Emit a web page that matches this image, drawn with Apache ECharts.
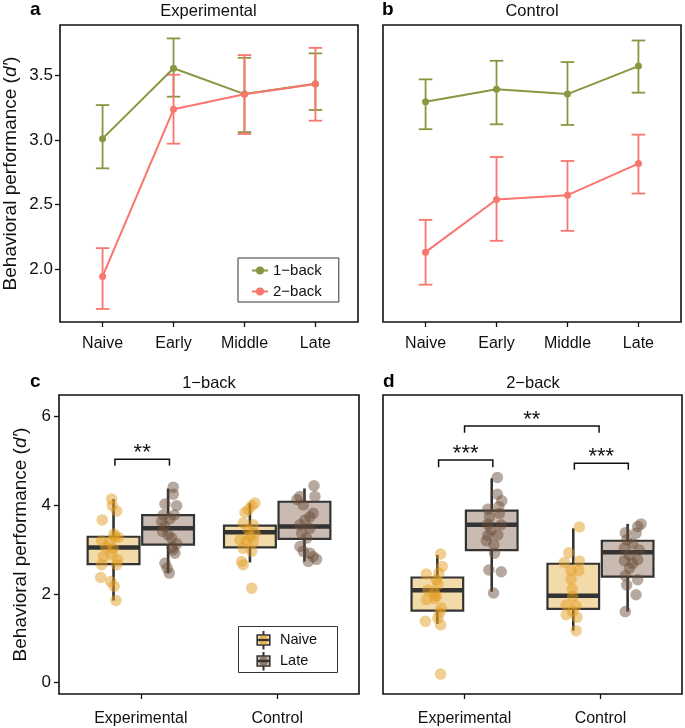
<!DOCTYPE html>
<html><head><meta charset="utf-8">
<script src="https://cdn.jsdelivr.net/npm/echarts@6/dist/echarts.min.js"></script>
<style>html,body{margin:0;padding:0;background:#fff}#c{width:685px;height:728px}</style>
</head><body><div id="c"></div>
<script>
const FONT = "'Liberation Sans', Arial, Helvetica, sans-serif";

// ---------- Panels a/b : mean ± error per phase ----------
const phases = ['Naive', 'Early', 'Middle', 'Late'];
const phaseTicks = [1, 2, 3, 4];
const topYTicks = [2.0, 2.5, 3.0, 3.5];

const expOneMean = [3.01, 3.555, 3.355, 3.435];
const expOneLow  = [2.78, 3.335, 3.06, 3.232];
const expOneHigh = [3.27, 3.786, 3.636, 3.67];
const expTwoMean = [1.943, 3.237, 3.353, 3.433];
const expTwoLow  = [1.691, 2.971, 3.046, 3.149];
const expTwoHigh = [2.162, 3.505, 3.657, 3.713];

const ctlOneMean = [3.296, 3.392, 3.355, 3.572];
const ctlOneLow  = [3.083, 3.121, 3.116, 3.366];
const ctlOneHigh = [3.469, 3.613, 3.603, 3.770];
const ctlTwoMean = [2.131, 2.539, 2.572, 2.817];
const ctlTwoLow  = [1.879, 2.219, 2.296, 2.585];
const ctlTwoHigh = [2.381, 2.868, 2.837, 3.041];

// ---------- Panels c/d : boxplots + jittered subjects ----------
const groups = ['Experimental', 'Control'];
const groupTicks = [1, 2];
const bottomYTicks = [0, 2, 4, 6];
// box stats: [q1, median, q3, whiskerLow, whiskerHigh]
const cExpNaiveBox = [2.67, 3.045, 3.29, 1.85, 4.14];
const cExpLateBox  = [3.11, 3.48, 3.78, 2.47, 4.38];
const cCtlNaiveBox = [3.05, 3.39, 3.54, 2.71, 4.05];
const cCtlLateBox  = [3.24, 3.52, 4.08, 2.73, 4.38];
const dExpNaiveBox = [1.62, 2.08, 2.37, 1.32, 2.88];
const dExpLateBox  = [2.99, 3.56, 3.88, 2.05, 4.61];
const dCtlNaiveBox = [1.66, 1.96, 2.68, 1.17, 3.48];
const dCtlLateBox  = [2.39, 2.94, 3.20, 1.60, 3.58];

// subject points [x (axis units, jittered), d']
const cExpNaive = [[0.786,4.14],[0.791,3.99],[0.823,3.87],[0.717,3.67],[0.811,3.29],[0.835,3.28],[0.713,3.20],[0.774,3.18],[0.803,3.35],[0.798,3.03],[0.745,3.05],[0.786,2.90],[0.725,2.84],[0.830,2.77],[0.713,2.66],[0.823,2.66],[0.706,2.37],[0.779,2.28],[0.805,2.17],[0.818,1.85]];
const cExpLate = [[1.238,4.41],[1.238,4.25],[1.177,4.03],[1.263,3.99],[1.245,3.78],[1.165,3.78],[1.153,3.63],[1.214,3.70],[1.177,3.52],[1.160,3.41],[1.201,3.33],[1.226,3.26],[1.263,3.13],[1.229,3.05],[1.238,2.99],[1.250,2.92],[1.177,2.69],[1.194,2.58],[1.209,2.47]];
const cCtlNaive = [[1.837,4.05],[1.813,3.99],[1.788,3.90],[1.764,3.84],[1.751,3.60],[1.824,3.56],[1.788,3.44],[1.837,3.37],[1.800,3.30],[1.727,3.22],[1.776,3.18],[1.824,3.18],[1.751,3.03],[1.813,2.96],[1.739,2.73],[1.751,2.66],[1.813,2.13]];
const cCtlLate = [[2.270,4.44],[2.167,4.20],[2.277,4.20],[2.145,4.13],[2.191,4.01],[2.264,3.82],[2.240,3.74],[2.204,3.67],[2.167,3.56],[2.240,3.48],[2.179,3.37],[2.216,3.26],[2.167,3.07],[2.191,2.96],[2.240,2.92],[2.264,2.84],[2.289,2.78],[2.228,2.73]];
const dExpNaive = [[0.824,2.90],[0.836,2.62],[0.719,2.45],[0.811,2.47],[0.792,2.32],[0.804,2.22],[0.731,2.09],[0.780,2.02],[0.792,1.95],[0.780,1.90],[0.719,1.87],[0.829,1.68],[0.817,1.57],[0.804,1.45],[0.712,1.38],[0.824,1.30],[0.824,0.19]];
const dExpLate = [[1.241,4.63],[1.241,4.25],[1.274,4.10],[1.252,3.97],[1.171,3.91],[1.257,3.82],[1.184,3.74],[1.171,3.57],[1.270,3.56],[1.196,3.44],[1.245,3.33],[1.171,3.32],[1.160,3.20],[1.216,3.11],[1.221,2.92],[1.179,2.54],[1.270,2.50],[1.213,2.02]];
const dCtlNaive = [[1.845,3.51],[1.767,2.93],[1.735,2.71],[1.845,2.74],[1.784,2.53],[1.840,2.53],[1.784,2.33],[1.792,2.11],[1.796,1.94],[1.748,1.75],[1.821,1.73],[1.796,1.60],[1.748,1.53],[1.828,1.47],[1.821,1.17]];
const dCtlLate = [[2.299,3.58],[2.274,3.52],[2.183,3.38],[2.262,3.37],[2.193,3.22],[2.237,3.14],[2.176,3.03],[2.286,2.99],[2.213,2.88],[2.274,2.77],[2.176,2.75],[2.237,2.69],[2.213,2.58],[2.183,2.41],[2.274,2.32],[2.193,2.20],[2.262,1.98],[2.183,1.60]];

// significance brackets: [x1, x2, yTop, yLeg]
const cBrackets = [[0.81, 1.21, 5.04, 4.89]];
const cBracketLabels = ['**'];
const dBrackets = [[0.809, 1.208, 5.02, 4.86], [1.0, 1.99, 5.79, 5.64], [1.808, 2.205, 4.95, 4.80]];
const dBracketLabels = ['***', '**', '***'];

// ---------- styling ----------
const OLIVE = '#8C9541', SALMON = '#F8766D';
const NAIVE_FILL = '#F3DAA9', LATE_FILL = '#C9BBB1';
const NAIVE_PT = 'rgba(226,156,32,0.62)', LATE_PT = 'rgba(105,76,55,0.6)';
const DARK = '#333333', INK = '#111111';
const BOX_HALF = 0.19, DODGE = 0.2;

function errRender(color) {
  return function (params, api) {
    const x = api.value(0), lo = api.value(1), hi = api.value(2);
    const pLo = api.coord([x, lo]), pHi = api.coord([x, hi]);
    const hw = api.size([0.095, 0])[0];
    const st = { stroke: color, lineWidth: 1.8 };
    return { type: 'group', children: [
      { type: 'line', shape: { x1: pLo[0], y1: pLo[1], x2: pHi[0], y2: pHi[1] }, style: st },
      { type: 'line', shape: { x1: pLo[0] - hw, y1: pLo[1], x2: pLo[0] + hw, y2: pLo[1] }, style: st },
      { type: 'line', shape: { x1: pHi[0] - hw, y1: pHi[1], x2: pHi[0] + hw, y2: pHi[1] }, style: st }
    ]};
  };
}
function boxRender(fill) {
  return function (params, api) {
    const x = api.value(0);
    const pQ1 = api.coord([x, api.value(1)]), pMed = api.coord([x, api.value(2)]),
          pQ3 = api.coord([x, api.value(3)]), pLo = api.coord([x, api.value(4)]),
          pHi = api.coord([x, api.value(5)]);
    const hw = api.size([BOX_HALF, 0])[0];
    const cx = pQ1[0];
    return { type: 'group', children: [
      { type: 'line', shape: { x1: cx, y1: pHi[1], x2: cx, y2: pQ3[1] }, style: { stroke: DARK, lineWidth: 2.6 } },
      { type: 'line', shape: { x1: cx, y1: pQ1[1], x2: cx, y2: pLo[1] }, style: { stroke: DARK, lineWidth: 2.6 } },
      { type: 'rect', shape: { x: cx - hw, y: pQ3[1], width: 2 * hw, height: pQ1[1] - pQ3[1] }, style: { fill: fill, stroke: DARK, lineWidth: 2.2 } },
      { type: 'line', shape: { x1: cx - hw, y1: pMed[1], x2: cx + hw, y2: pMed[1] }, style: { stroke: DARK, lineWidth: 4.5 } }
    ]};
  };
}
function bracketRender(labels) {
  return function (params, api) {
    const x1 = api.value(0), x2 = api.value(1), yt = api.value(2), yl = api.value(3);
    const a = api.coord([x1, yl]), b = api.coord([x1, yt]), c = api.coord([x2, yt]), d = api.coord([x2, yl]);
    return { type: 'group', children: [
      { type: 'polyline', shape: { points: [a, b, c, d] }, style: { stroke: INK, lineWidth: 1.5, fill: null } },
      { type: 'text', style: { text: labels[params.dataIndex], x: (b[0] + c[0]) / 2, y: b[1] - 6,
        textAlign: 'center', textVerticalAlign: 'middle', font: '22px ' + FONT, fill: INK } }
    ]};
  };
}

function pts(xs, ys) { return xs.map((x, i) => [x, ys[i]]); }
function errData(lo, hi) { return phaseTicks.map((x, i) => [x, lo[i], hi[i]]); }
function boxData(a, b, off) { return [[1 + off].concat(a), [2 + off].concat(b)]; }

const yName = '{n|Behavioral performance (}{i|d′}{n|)}';
const NAME_FS = 19;
const nameStyle = { fontSize: NAME_FS, fontFamily: FONT, color: INK,
  rich: { n: { fontSize: NAME_FS, fontFamily: FONT, color: INK }, i: { fontSize: NAME_FS, fontFamily: FONT, color: INK, fontStyle: 'italic' } } };

function xAxisTop(gi) {
  return { type: 'value', gridIndex: gi, min: 0.4, max: 4.6, splitLine: { show: false }, axisLine: { show: false, onZero: false },
    axisTick: { show: true, customValues: phaseTicks, length: 5, lineStyle: { color: INK, width: 1.3 } },
    axisLabel: { show: true, customValues: phaseTicks, formatter: v => phases[Math.round(v) - 1], margin: 14, fontSize: 16, fontFamily: FONT, color: INK } };
}
function xAxisBottom(gi) {
  return { type: 'value', gridIndex: gi, min: 0.4, max: 2.6, splitLine: { show: false }, axisLine: { show: false, onZero: false },
    axisTick: { show: true, customValues: groupTicks, length: 5, lineStyle: { color: INK, width: 1.3 } },
    axisLabel: { show: true, customValues: groupTicks, formatter: v => groups[Math.round(v) - 1], margin: 17, fontSize: 16, fontFamily: FONT, color: INK } };
}

const grids = [
  { left: 59, top: 25, width: 299, height: 297 },
  { left: 383, top: 25, width: 298, height: 297 },
  { left: 59, top: 395, width: 300, height: 299 },
  { left: 383, top: 395, width: 299, height: 299 }
].map(g => Object.assign(g, { show: true, borderColor: INK, borderWidth: 1.6, backgroundColor: 'transparent', containLabel: false }));

const option = {
  animation: false,
  backgroundColor: '#fff',
  grid: grids,
  xAxis: [xAxisTop(0), xAxisTop(1), xAxisBottom(2), xAxisBottom(3)],
  yAxis: [
    { type: 'value', gridIndex: 0, min: 1.59, max: 3.89, splitLine: { show: false }, axisLine: { show: false, onZero: false },
      axisTick: { show: true, customValues: topYTicks, length: 5, lineStyle: { color: INK, width: 1.3 } },
      axisLabel: { customValues: topYTicks, formatter: v => v.toFixed(1), margin: 7, fontSize: 17, fontFamily: FONT, color: INK },
      name: yName, nameLocation: 'middle', nameRotate: 90, nameGap: 40, nameTextStyle: nameStyle },
    { type: 'value', gridIndex: 1, min: 1.59, max: 3.89, splitLine: { show: false }, axisLine: { show: false, onZero: false },
      axisTick: { show: false }, axisLabel: { show: false } },
    { type: 'value', gridIndex: 2, min: -0.26, max: 6.49, splitLine: { show: false }, axisLine: { show: false, onZero: false },
      axisTick: { show: true, customValues: bottomYTicks, length: 5, lineStyle: { color: INK, width: 1.3 } },
      axisLabel: { customValues: bottomYTicks, formatter: v => String(v), margin: 8, fontSize: 17, fontFamily: FONT, color: INK },
      name: yName, nameLocation: 'middle', nameRotate: 90, nameGap: 29, nameTextStyle: nameStyle },
    { type: 'value', gridIndex: 3, min: -0.26, max: 6.49, splitLine: { show: false }, axisLine: { show: false, onZero: false },
      axisTick: { show: false }, axisLabel: { show: false } }
  ],
  legend: {
    data: ['1−back', '2−back'], orient: 'vertical', left: 238, top: 258, padding: [5, 17, 3, 13],
    itemWidth: 16, itemHeight: 10, itemGap: 6, borderColor: DARK, borderWidth: 1, backgroundColor: '#fff',
    selectedMode: false, textStyle: { fontSize: 15, fontFamily: FONT, color: INK, lineHeight: 15 }
  },
  series: [
    // panel a
    { type: 'custom', name: 'errA1', xAxisIndex: 0, yAxisIndex: 0, renderItem: errRender(OLIVE), data: errData(expOneLow, expOneHigh), encode: { x: 0, y: [1, 2] } },
    { type: 'line', name: '1−back', xAxisIndex: 0, yAxisIndex: 0, data: pts(phaseTicks, expOneMean), symbol: 'circle', symbolSize: 7,
      lineStyle: { color: OLIVE, width: 2 }, itemStyle: { color: OLIVE } },
    { type: 'custom', name: 'errA2', xAxisIndex: 0, yAxisIndex: 0, renderItem: errRender(SALMON), data: errData(expTwoLow, expTwoHigh), encode: { x: 0, y: [1, 2] } },
    { type: 'line', name: '2−back', xAxisIndex: 0, yAxisIndex: 0, data: pts(phaseTicks, expTwoMean), symbol: 'circle', symbolSize: 7,
      lineStyle: { color: SALMON, width: 2 }, itemStyle: { color: SALMON } },
    // panel b
    { type: 'custom', name: 'errB1', xAxisIndex: 1, yAxisIndex: 1, renderItem: errRender(OLIVE), data: errData(ctlOneLow, ctlOneHigh), encode: { x: 0, y: [1, 2] } },
    { type: 'line', name: '1−back', xAxisIndex: 1, yAxisIndex: 1, data: pts(phaseTicks, ctlOneMean), symbol: 'circle', symbolSize: 7,
      lineStyle: { color: OLIVE, width: 2 }, itemStyle: { color: OLIVE } },
    { type: 'custom', name: 'errB2', xAxisIndex: 1, yAxisIndex: 1, renderItem: errRender(SALMON), data: errData(ctlTwoLow, ctlTwoHigh), encode: { x: 0, y: [1, 2] } },
    { type: 'line', name: '2−back', xAxisIndex: 1, yAxisIndex: 1, data: pts(phaseTicks, ctlTwoMean), symbol: 'circle', symbolSize: 7,
      lineStyle: { color: SALMON, width: 2 }, itemStyle: { color: SALMON } },
    // panel c
    { type: 'custom', name: 'boxCN', xAxisIndex: 2, yAxisIndex: 2, renderItem: boxRender(NAIVE_FILL), data: boxData(cExpNaiveBox, cCtlNaiveBox, -DODGE), encode: { x: 0, y: [1, 2, 3, 4, 5] } },
    { type: 'custom', name: 'boxCL', xAxisIndex: 2, yAxisIndex: 2, renderItem: boxRender(LATE_FILL), data: boxData(cExpLateBox, cCtlLateBox, DODGE), encode: { x: 0, y: [1, 2, 3, 4, 5] } },
    { type: 'scatter', name: 'ptCN', xAxisIndex: 2, yAxisIndex: 2, data: cExpNaive.concat(cCtlNaive), symbolSize: 11.5, itemStyle: { color: NAIVE_PT } },
    { type: 'scatter', name: 'ptCL', xAxisIndex: 2, yAxisIndex: 2, data: cExpLate.concat(cCtlLate), symbolSize: 11.5, itemStyle: { color: LATE_PT } },
    { type: 'custom', name: 'sigC', xAxisIndex: 2, yAxisIndex: 2, renderItem: bracketRender(cBracketLabels), data: cBrackets, encode: { x: [0, 1], y: [2, 3] } },
    // panel d
    { type: 'custom', name: 'boxDN', xAxisIndex: 3, yAxisIndex: 3, renderItem: boxRender(NAIVE_FILL), data: boxData(dExpNaiveBox, dCtlNaiveBox, -DODGE), encode: { x: 0, y: [1, 2, 3, 4, 5] } },
    { type: 'custom', name: 'boxDL', xAxisIndex: 3, yAxisIndex: 3, renderItem: boxRender(LATE_FILL), data: boxData(dExpLateBox, dCtlLateBox, DODGE), encode: { x: 0, y: [1, 2, 3, 4, 5] } },
    { type: 'scatter', name: 'ptDN', xAxisIndex: 3, yAxisIndex: 3, data: dExpNaive.concat(dCtlNaive), symbolSize: 11.5, itemStyle: { color: NAIVE_PT } },
    { type: 'scatter', name: 'ptDL', xAxisIndex: 3, yAxisIndex: 3, data: dExpLate.concat(dCtlLate), symbolSize: 11.5, itemStyle: { color: LATE_PT } },
    { type: 'custom', name: 'sigD', xAxisIndex: 3, yAxisIndex: 3, renderItem: bracketRender(dBracketLabels), data: dBrackets, encode: { x: [0, 1], y: [2, 3] } }
  ],
  graphic: [
    { type: 'text', left: 30, top: 0, style: { text: 'a', font: 'bold 19px ' + FONT, fill: '#000' } },
    { type: 'text', x: 208.5, y: 11, style: { text: 'Experimental', textAlign: 'center', textVerticalAlign: 'middle', font: '16.5px ' + FONT, fill: INK } },
    { type: 'text', left: 382, top: 0, style: { text: 'b', font: 'bold 19px ' + FONT, fill: '#000' } },
    { type: 'text', x: 532, y: 11, style: { text: 'Control', textAlign: 'center', textVerticalAlign: 'middle', font: '16.5px ' + FONT, fill: INK } },
    { type: 'text', left: 30, top: 372, style: { text: 'c', font: 'bold 19px ' + FONT, fill: '#000' } },
    { type: 'text', x: 209, y: 383, style: { text: '1−back', textAlign: 'center', textVerticalAlign: 'middle', font: '16.5px ' + FONT, fill: INK } },
    { type: 'text', left: 383, top: 372, style: { text: 'd', font: 'bold 19px ' + FONT, fill: '#000' } },
    { type: 'text', x: 533, y: 383, style: { text: '2−back', textAlign: 'center', textVerticalAlign: 'middle', font: '16.5px ' + FONT, fill: INK } },
    // panel c legend
    { type: 'group', left: 238, top: 626, children: [
      { type: 'rect', shape: { x: 0, y: 0, width: 99, height: 46 }, style: { fill: '#fff', stroke: DARK, lineWidth: 1 } },
      { type: 'line', shape: { x1: 25, y1: 4.5, x2: 25, y2: 23 }, style: { stroke: DARK, lineWidth: 2 } },
      { type: 'rect', shape: { x: 18.7, y: 8.5, width: 12.6, height: 10 }, style: { fill: NAIVE_FILL, stroke: DARK, lineWidth: 1.6 } },
      { type: 'circle', shape: { cx: 25, cy: 13.5, r: 4.5 }, style: { fill: NAIVE_PT } },
      { type: 'line', shape: { x1: 18.7, y1: 13.5, x2: 31.3, y2: 13.5 }, style: { stroke: DARK, lineWidth: 2.2 } },
      { type: 'text', style: { text: 'Naive', x: 41.5, y: 13.5, textVerticalAlign: 'middle', font: '14.5px ' + FONT, fill: INK } },
      { type: 'line', shape: { x1: 25, y1: 25.5, x2: 25, y2: 44 }, style: { stroke: DARK, lineWidth: 2 } },
      { type: 'rect', shape: { x: 18.7, y: 29.5, width: 12.6, height: 10 }, style: { fill: LATE_FILL, stroke: DARK, lineWidth: 1.6 } },
      { type: 'circle', shape: { cx: 25, cy: 34.5, r: 4.5 }, style: { fill: LATE_PT } },
      { type: 'line', shape: { x1: 18.7, y1: 34.5, x2: 31.3, y2: 34.5 }, style: { stroke: DARK, lineWidth: 2.2 } },
      { type: 'text', style: { text: 'Late', x: 41.5, y: 34.5, textVerticalAlign: 'middle', font: '14.5px ' + FONT, fill: INK } }
    ]}
  ]
};

const chart = echarts.init(document.getElementById('c'), null, { renderer: 'canvas' });
chart.setOption(option);
</script>
</body></html>
